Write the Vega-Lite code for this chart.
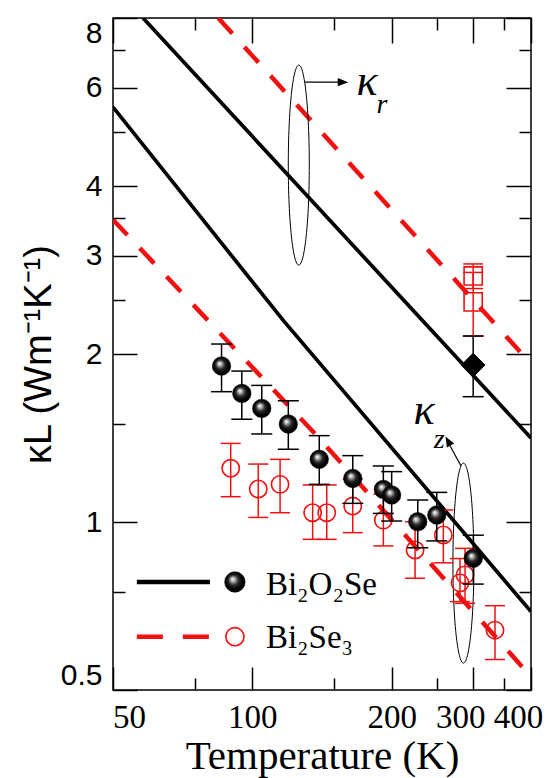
{
  "$schema": "https://vega.github.io/schema/vega-lite/v6.json",
  "width": 418,
  "height": 672,
  "autosize": {"type": "none"},
  "padding": {"left": 113, "top": 18, "right": 22, "bottom": 88},
  "background": "white",
  "resolve": {"axis": {"x": "independent", "y": "independent"}},
  "config": {
    "view": {"stroke": "black", "strokeWidth": 1.5},
    "axis": {"grid": false, "domain": false, "tickColor": "black", "tickWidth": 1.5, "labelColor": "black", "titleColor": "black", "labelOverlap": false, "labelBound": false, "titleFontWeight": "normal"}
  },
  "datasets": {
    "lines": [
      {"mat": "Bi2O2Se", "dir": "kr", "T": 58.05, "k": 8},
      {"mat": "Bi2O2Se", "dir": "kr", "T": 400, "k": 1.414},
      {"mat": "Bi2O2Se", "dir": "kz", "T": 50, "k": 5.54},
      {"mat": "Bi2O2Se", "dir": "kz", "T": 116.5, "k": 2.3},
      {"mat": "Bi2O2Se", "dir": "kz", "T": 400, "k": 0.691},
      {"mat": "Bi2Se3", "dir": "kr", "T": 84.4, "k": 8},
      {"mat": "Bi2Se3", "dir": "kr", "T": 400, "k": 1.92},
      {"mat": "Bi2Se3", "dir": "kz", "T": 50, "k": 3.48},
      {"mat": "Bi2Se3", "dir": "kz", "T": 138.7, "k": 1.42},
      {"mat": "Bi2Se3", "dir": "kz", "T": 400, "k": 0.528}
    ],
    "points": [
      {"mat": "Bi2O2Se", "dir": "kz", "T": 85.8, "k": 1.903, "lo": 1.712, "hi": 2.084},
      {"mat": "Bi2O2Se", "dir": "kz", "T": 94.9, "k": 1.7, "lo": 1.528, "hi": 1.864},
      {"mat": "Bi2O2Se", "dir": "kz", "T": 104.8, "k": 1.598, "lo": 1.438, "hi": 1.757},
      {"mat": "Bi2O2Se", "dir": "kz", "T": 119.6, "k": 1.498, "lo": 1.35, "hi": 1.649},
      {"mat": "Bi2O2Se", "dir": "kz", "T": 139.5, "k": 1.295, "lo": 1.168, "hi": 1.428},
      {"mat": "Bi2O2Se", "dir": "kz", "T": 164.8, "k": 1.197, "lo": 1.08, "hi": 1.315},
      {"mat": "Bi2O2Se", "dir": "kz", "T": 191.9, "k": 1.144, "lo": 1.036, "hi": 1.26},
      {"mat": "Bi2O2Se", "dir": "kz", "T": 200.0, "k": 1.118, "lo": 1.004, "hi": 1.231},
      {"mat": "Bi2O2Se", "dir": "kz", "T": 227.7, "k": 1.001, "lo": 0.899, "hi": 1.095},
      {"mat": "Bi2O2Se", "dir": "kz", "T": 250.3, "k": 1.029, "lo": 0.925, "hi": 1.13},
      {"mat": "Bi2O2Se", "dir": "kz", "T": 300.2, "k": 0.861, "lo": 0.774, "hi": 0.947},
      {"mat": "Bi2O2Se", "dir": "kr", "T": 300, "k": 1.911, "lo": 1.677, "hi": 2.154},
      {"mat": "Bi2Se3", "dir": "kz", "T": 89.8, "k": 1.248, "lo": 1.11, "hi": 1.383},
      {"mat": "Bi2Se3", "dir": "kz", "T": 103.0, "k": 1.146, "lo": 1.019, "hi": 1.27},
      {"mat": "Bi2Se3", "dir": "kz", "T": 114.8, "k": 1.168, "lo": 1.039, "hi": 1.295},
      {"mat": "Bi2Se3", "dir": "kz", "T": 135.0, "k": 1.039, "lo": 0.931, "hi": 1.165},
      {"mat": "Bi2Se3", "dir": "kz", "T": 144.8, "k": 1.039, "lo": 0.931, "hi": 1.165},
      {"mat": "Bi2Se3", "dir": "kz", "T": 164.8, "k": 1.068, "lo": 0.957, "hi": 1.194},
      {"mat": "Bi2Se3", "dir": "kz", "T": 191.9, "k": 1.008, "lo": 0.906, "hi": 1.122},
      {"mat": "Bi2Se3", "dir": "kz", "T": 224.7, "k": 0.891, "lo": 0.793, "hi": 1.001},
      {"mat": "Bi2Se3", "dir": "kz", "T": 258.6, "k": 0.948, "lo": 0.845, "hi": 1.051},
      {"mat": "Bi2Se3", "dir": "kz", "T": 288.1, "k": 0.804, "lo": 0.715, "hi": 0.897},
      {"mat": "Bi2Se3", "dir": "kz", "T": 281.0, "k": 0.778, "lo": 0.72, "hi": 0.86},
      {"mat": "Bi2Se3", "dir": "kz", "T": 334.4, "k": 0.64, "lo": 0.567, "hi": 0.708},
      {"mat": "Bi2Se3", "dir": "kr", "T": 300, "k": 2.76, "lo": 2.62, "hi": 2.9},
      {"mat": "Bi2Se3", "dir": "kr", "T": 300, "k": 2.48, "lo": 2.154, "hi": 2.8}
    ],
    "ellipses": [
      {"dir": "kr", "T": 126.0, "k": 4.36},
      {"dir": "kz", "T": 285.8, "k": 0.844}
    ],
    "arrows": [
      {"dir": "kr", "T": 129.9, "T2": 154.7, "k": 6.14, "k2": 6.14},
      {"dir": "kz", "T": 282.4, "T2": 266.1, "k": 1.26, "k2": 1.38}
    ],
    "kappa": [
      {"dir": "kr", "T": 176.9, "k": 6.14, "label": "κ"},
      {"dir": "kz", "T": 235.0, "k": 1.581, "label": "κ"}
    ],
    "subs": [
      {"dir": "kr", "T": 190.5, "k": 5.58, "label": "r"},
      {"dir": "kz", "T": 253.5, "k": 1.405, "label": "z"}
    ],
    "legend": [
      {"mat": "Bi2O2Se", "T1": 56.3, "T2": 81.0, "Tm": 91.7, "Tt": 107.0, "k": 0.781, "kt": 0.74, "label": "Bi₂O₂Se"},
      {"mat": "Bi2Se3", "T1": 56.3, "T2": 81.0, "Tm": 91.7, "Tt": 107.0, "k": 0.623, "kt": 0.595, "label": "Bi₂Se₃"}
    ]
  },
  "layer": [
    {
      "data": {"name": "lines"},
      "transform": [{"filter": "datum.mat == 'Bi2O2Se'"}],
      "mark": {"type": "line", "color": "black", "strokeWidth": 3.7, "clip": true},
      "encoding": {
        "x": {"field": "T", "type": "quantitative", "scale": {"type": "log", "domain": [50, 400], "nice": false},
          "axis": {"orient": "bottom", "values": [50, 75, 100, 150, 200, 250, 300, 350, 400], "format": "~g",
            "labelExpr": "indexof([50,100,200,300,400], datum.value) >= 0 ? datum.label : ''",
            "tickSize": {"condition": {"test": "indexof([50,100,200,300,400], datum.value) >= 0", "value": -23}, "value": -12},
            "labelPadding": 34, "labelFlush": false,
            "labelOffset": {"expr": "datum.value == 50 ? 16 : (datum.value >= 300 ? -13 : 0)"},
            "labelFont": "Liberation Serif", "labelFontSize": 33,
            "title": "Temperature (K)", "titleFont": "Liberation Serif", "titleFontSize": 41, "titlePadding": -9}},
        "y": {"field": "k", "type": "quantitative", "scale": {"type": "log", "domain": [0.5, 8], "nice": false},
          "axis": {"orient": "left", "values": [0.5, 0.75, 1, 1.5, 2, 2.5, 3, 3.5, 4, 5, 6, 7, 8], "format": "~g",
            "labelExpr": "indexof([0.5,1,2,3,4,6,8], datum.value) >= 0 ? datum.label : ''",
            "tickSize": {"condition": {"test": "indexof([0.5,1,2,3,4,6,8], datum.value) >= 0", "value": -24}, "value": -12},
            "labelPadding": 35, "labelFlush": true,
            "labelFont": "Liberation Sans", "labelFontSize": 30,
            "title": "κL (Wm⁻¹K⁻¹)", "titleFont": "Liberation Sans", "titleFontSize": 38, "titlePadding": 2}},
        "detail": {"field": "dir"}
      }
    },
    {
      "data": {"name": "lines"},
      "transform": [{"filter": "datum.mat == 'Bi2Se3'"}],
      "mark": {"type": "line", "color": "#f01010", "strokeWidth": 4.5, "strokeDash": [21, 18], "clip": true},
      "encoding": {
        "x": {"field": "T", "type": "quantitative", "axis": null},
        "y": {"field": "k", "type": "quantitative", "axis": null},
        "detail": {"field": "dir"}
      }
    },
    {
      "data": {"name": "ellipses"},
      "mark": {"type": "point", "shape": "M0,-1 C0.058,-1 0.105,-0.552 0.105,0 C0.105,0.552 0.058,1 0,1 C-0.058,1 -0.105,0.552 -0.105,0 C-0.105,-0.552 -0.058,-1 0,-1 Z", "size": 40000, "filled": false, "stroke": "black", "strokeWidth": 1, "opacity": 1},
      "encoding": {
        "x": {"field": "T", "type": "quantitative",
          "axis": {"orient": "top", "values": [50, 75, 100, 150, 200, 250, 300, 350, 400], "labels": false, "title": null,
            "tickSize": {"condition": {"test": "indexof([50,100,200,300,400], datum.value) >= 0", "value": -25}, "value": -12}}},
        "y": {"field": "k", "type": "quantitative",
          "axis": {"orient": "right", "values": [0.5, 0.75, 1, 1.5, 2, 2.5, 3, 3.5, 4, 5, 6, 7, 8], "labels": false, "title": null,
            "tickSize": {"condition": {"test": "indexof([0.5,1,2,3,4,6,8], datum.value) >= 0", "value": -25}, "value": -12}}}
      }
    },
    {
      "data": {"name": "arrows"},
      "mark": {"type": "rule", "color": "black", "strokeWidth": 1.2},
      "encoding": {
        "x": {"field": "T", "type": "quantitative", "axis": null},
        "x2": {"field": "T2"},
        "y": {"field": "k", "type": "quantitative", "axis": null},
        "y2": {"field": "k2"}
      }
    },
    {
      "data": {"values": [{"dir": "kr", "T": 157.0, "k": 6.14}]},
      "mark": {"type": "point", "shape": "M-1,-0.8 L1,0 L-1,0.8 Z", "size": 110, "filled": true, "fill": "black", "strokeWidth": 0, "opacity": 1},
      "encoding": {
        "x": {"field": "T", "type": "quantitative", "axis": null},
        "y": {"field": "k", "type": "quantitative", "axis": null}
      }
    },
    {
      "data": {"values": [{"dir": "kz", "T": 264.7, "k": 1.397}]},
      "mark": {"type": "point", "shape": "M-0.8,1 L0,-1 L0.8,1 Z", "size": 110, "angle": 331, "filled": true, "fill": "black", "strokeWidth": 0, "opacity": 1},
      "encoding": {
        "x": {"field": "T", "type": "quantitative", "axis": null},
        "y": {"field": "k", "type": "quantitative", "axis": null}
      }
    },
    {
      "data": {"name": "kappa"},
      "mark": {"type": "text", "font": "Liberation Serif", "fontStyle": "italic", "fontSize": 44, "align": "center", "baseline": "middle", "color": "black"},
      "encoding": {
        "x": {"field": "T", "type": "quantitative", "axis": null},
        "y": {"field": "k", "type": "quantitative", "axis": null},
        "text": {"field": "label"}
      }
    },
    {
      "data": {"name": "subs"},
      "mark": {"type": "text", "font": "Liberation Serif", "fontStyle": "italic", "fontSize": 28, "align": "center", "baseline": "middle", "color": "black"},
      "encoding": {
        "x": {"field": "T", "type": "quantitative", "axis": null},
        "y": {"field": "k", "type": "quantitative", "axis": null},
        "text": {"field": "label"}
      }
    },
    {
      "data": {"name": "points"},
      "transform": [{"filter": "datum.mat == 'Bi2Se3'"}],
      "mark": {"type": "rule", "color": "#f01010", "strokeWidth": 1.5},
      "encoding": {
        "x": {"field": "T", "type": "quantitative", "axis": null},
        "y": {"field": "lo", "type": "quantitative", "axis": null},
        "y2": {"field": "hi"}
      }
    },
    {
      "data": {"name": "points"},
      "transform": [{"filter": "datum.mat == 'Bi2Se3'"}],
      "mark": {"type": "tick", "orient": "horizontal", "size": 20, "thickness": 1.5, "color": "#f01010", "opacity": 1},
      "encoding": {
        "x": {"field": "T", "type": "quantitative", "axis": null},
        "y": {"field": "lo", "type": "quantitative", "axis": null}
      }
    },
    {
      "data": {"name": "points"},
      "transform": [{"filter": "datum.mat == 'Bi2Se3'"}],
      "mark": {"type": "tick", "orient": "horizontal", "size": 20, "thickness": 1.5, "color": "#f01010", "opacity": 1},
      "encoding": {
        "x": {"field": "T", "type": "quantitative", "axis": null},
        "y": {"field": "hi", "type": "quantitative", "axis": null}
      }
    },
    {
      "data": {"name": "points"},
      "transform": [{"filter": "datum.mat == 'Bi2Se3' && datum.dir == 'kz'"}],
      "mark": {"type": "point", "shape": "circle", "filled": false, "stroke": "#f01010", "strokeWidth": 1.6, "size": 300, "opacity": 1},
      "encoding": {
        "x": {"field": "T", "type": "quantitative", "axis": null},
        "y": {"field": "k", "type": "quantitative", "axis": null}
      }
    },
    {
      "data": {"name": "points"},
      "transform": [{"filter": "datum.mat == 'Bi2Se3' && datum.dir == 'kr'"}],
      "mark": {"type": "point", "shape": "square", "filled": false, "stroke": "#f01010", "strokeWidth": 1.6, "size": 330, "opacity": 1},
      "encoding": {
        "x": {"field": "T", "type": "quantitative", "axis": null},
        "y": {"field": "k", "type": "quantitative", "axis": null}
      }
    },
    {
      "data": {"name": "points"},
      "transform": [{"filter": "datum.mat == 'Bi2O2Se'"}],
      "mark": {"type": "rule", "color": "black", "strokeWidth": 1.5},
      "encoding": {
        "x": {"field": "T", "type": "quantitative", "axis": null},
        "y": {"field": "lo", "type": "quantitative", "axis": null},
        "y2": {"field": "hi"}
      }
    },
    {
      "data": {"name": "points"},
      "transform": [{"filter": "datum.mat == 'Bi2O2Se'"}],
      "mark": {"type": "tick", "orient": "horizontal", "size": 21, "thickness": 1.5, "color": "black", "opacity": 1},
      "encoding": {
        "x": {"field": "T", "type": "quantitative", "axis": null},
        "y": {"field": "lo", "type": "quantitative", "axis": null}
      }
    },
    {
      "data": {"name": "points"},
      "transform": [{"filter": "datum.mat == 'Bi2O2Se'"}],
      "mark": {"type": "tick", "orient": "horizontal", "size": 21, "thickness": 1.5, "color": "black", "opacity": 1},
      "encoding": {
        "x": {"field": "T", "type": "quantitative", "axis": null},
        "y": {"field": "hi", "type": "quantitative", "axis": null}
      }
    },
    {
      "data": {"name": "points"},
      "transform": [{"filter": "datum.mat == 'Bi2O2Se' && datum.dir == 'kz'"}],
      "mark": {"type": "point", "shape": "circle", "filled": true,
        "fill": {"gradient": "radial", "x1": 0.38, "y1": 0.35, "r1": 0, "x2": 0.5, "y2": 0.5, "r2": 0.55,
          "stops": [{"offset": 0, "color": "#ffffff"}, {"offset": 0.12, "color": "#d8d8d8"}, {"offset": 0.45, "color": "#2a2a2a"}, {"offset": 0.75, "color": "#000000"}, {"offset": 1, "color": "#000000"}]},
        "stroke": "black", "strokeWidth": 0.6, "size": 340, "opacity": 1},
      "encoding": {
        "x": {"field": "T", "type": "quantitative", "axis": null},
        "y": {"field": "k", "type": "quantitative", "axis": null}
      }
    },
    {
      "data": {"name": "points"},
      "transform": [{"filter": "datum.mat == 'Bi2O2Se' && datum.dir == 'kr'"}],
      "mark": {"type": "point", "shape": "diamond", "filled": true, "fill": "black", "stroke": "black", "strokeWidth": 1, "size": 560, "opacity": 1},
      "encoding": {
        "x": {"field": "T", "type": "quantitative", "axis": null},
        "y": {"field": "k", "type": "quantitative", "axis": null}
      }
    },
    {
      "data": {"name": "legend"},
      "transform": [{"filter": "datum.mat == 'Bi2O2Se'"}],
      "mark": {"type": "rule", "color": "black", "strokeWidth": 4.5},
      "encoding": {
        "x": {"field": "T1", "type": "quantitative", "axis": null},
        "x2": {"field": "T2"},
        "y": {"field": "k", "type": "quantitative", "axis": null}
      }
    },
    {
      "data": {"name": "legend"},
      "transform": [{"filter": "datum.mat == 'Bi2Se3'"}],
      "mark": {"type": "rule", "color": "#f01010", "strokeWidth": 4.5, "strokeDash": [26, 20]},
      "encoding": {
        "x": {"field": "T1", "type": "quantitative", "axis": null},
        "x2": {"field": "T2"},
        "y": {"field": "k", "type": "quantitative", "axis": null}
      }
    },
    {
      "data": {"name": "legend"},
      "transform": [{"filter": "datum.mat == 'Bi2O2Se'"}],
      "mark": {"type": "point", "shape": "circle", "filled": true,
        "fill": {"gradient": "radial", "x1": 0.38, "y1": 0.35, "r1": 0, "x2": 0.5, "y2": 0.5, "r2": 0.55,
          "stops": [{"offset": 0, "color": "#ffffff"}, {"offset": 0.12, "color": "#d8d8d8"}, {"offset": 0.45, "color": "#2a2a2a"}, {"offset": 0.75, "color": "#000000"}, {"offset": 1, "color": "#000000"}]},
        "stroke": "black", "strokeWidth": 0.6, "size": 420, "opacity": 1},
      "encoding": {
        "x": {"field": "Tm", "type": "quantitative", "axis": null},
        "y": {"field": "k", "type": "quantitative", "axis": null}
      }
    },
    {
      "data": {"name": "legend"},
      "transform": [{"filter": "datum.mat == 'Bi2Se3'"}],
      "mark": {"type": "point", "shape": "circle", "filled": false, "stroke": "#f01010", "strokeWidth": 1.6, "size": 330, "opacity": 1},
      "encoding": {
        "x": {"field": "Tm", "type": "quantitative", "axis": null},
        "y": {"field": "k", "type": "quantitative", "axis": null}
      }
    },
    {
      "data": {"name": "legend"},
      "mark": {"type": "text", "font": "Liberation Serif", "fontSize": 33, "align": "left", "baseline": "alphabetic", "color": "black"},
      "encoding": {
        "x": {"field": "Tt", "type": "quantitative", "axis": null},
        "y": {"field": "kt", "type": "quantitative", "axis": null},
        "text": {"field": "label"}
      }
    }
  ]
}
